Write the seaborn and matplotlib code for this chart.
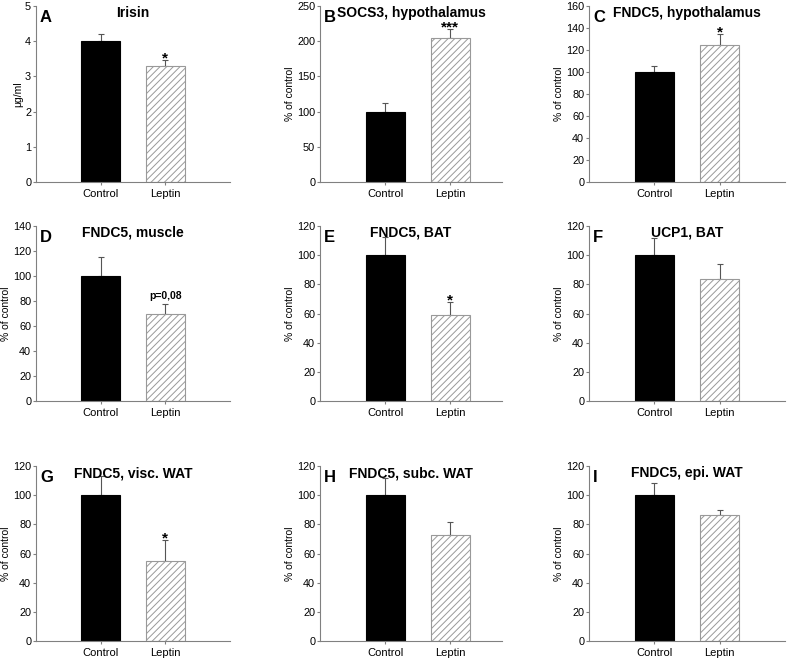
import matplotlib
matplotlib.use("Agg")
import matplotlib.pyplot as plt
import seaborn as sns
import pandas as pd

sns.set_style("ticks")
plt.rcParams['font.family'] = ['Liberation Sans', 'DejaVu Sans']
plt.rcParams['hatch.linewidth'] = 0.7
plt.rcParams['text.color'] = 'black'
plt.rcParams['axes.labelcolor'] = 'black'

groups = ["Control", "Leptin"]
letters = ["A", "B", "C", "D", "E", "F", "G", "H", "I"]
titles = ["Irisin", "SOCS3, hypothalamus", "FNDC5, hypothalamus",
          "FNDC5, muscle", "FNDC5, BAT", "UCP1, BAT",
          "FNDC5, visc. WAT", "FNDC5, subc. WAT", "FNDC5, epi. WAT"]
ylabels = ["\u03bcg/ml"] + ["% of control"] * 8
ymax = [5, 250, 160, 140, 120, 120, 120, 120, 120]
ystep = [1, 50, 20, 20, 20, 20, 20, 20, 20]
control_mean = [4.0, 100, 100, 100, 100, 100, 100, 100, 100]
control_err = [0.2, 12, 5, 15, 12.5, 12, 13, 12, 8.5]
leptin_mean = [3.3, 205, 125, 70, 59, 84, 55, 72.5, 86.5]
leptin_err = [0.17, 12, 10, 7.5, 9, 10, 14, 9, 3]
marks = ["*", "***", "*", "p=0,08", "*", "", "*", "", ""]

W, H = 787, 663
cols = [(36, 230, 2.0), (320, 502, 1.8), (589, 785, 2.0)]
rows = [(6, 182), (226, 401), (466, 641)]

fig = plt.figure(figsize=(W / 100, H / 100), dpi=100)
axis_gray = "#808080"

for i in range(9):
    r, c = divmod(i, 3)
    x0, x1, xr = cols[c]
    y0, y1 = rows[r]
    ax = fig.add_axes([x0 / W, 1 - y1 / H, (x1 - x0) / W, (y1 - y0) / H])
    df = pd.DataFrame({"group": groups,
                       "value": [control_mean[i], leptin_mean[i]]})
    sns.barplot(data=df, x="group", y="value", hue="group",
                palette=["black", "white"], width=0.6, errorbar=None,
                legend=False, ax=ax, saturation=1)
    bars = ax.patches
    bars[0].set_edgecolor("black")
    bars[0].set_linewidth(0.8)
    bars[1].set_edgecolor("#999999")
    bars[1].set_hatch("/////")
    bars[1].set_linewidth(0.8)
    ax.errorbar([0, 1], [control_mean[i], leptin_mean[i]],
                yerr=[[0, 0], [control_err[i], leptin_err[i]]],
                fmt="none", ecolor="#555555", elinewidth=0.8,
                capsize=2.5, capthick=0.8, zorder=1)
    for b in bars:
        b.set_zorder(2)
    ax.set_xlim(-1.0, xr)
    ax.set_ylim(0, ymax[i])
    ax.set_yticks(range(0, ymax[i] + 1, ystep[i]))
    ax.set_xlabel("")
    ax.set_ylabel(ylabels[i], fontsize=7.5, labelpad=1.5)
    ax.tick_params(axis="both", labelsize=8, length=2.3, width=0.8,
                   color=axis_gray, labelcolor="black")
    ax.tick_params(axis="y", pad=1.2, labelsize=7.8)
    ax.tick_params(axis="x", pad=3)
    sns.despine(ax=ax)
    for s in ["left", "bottom"]:
        ax.spines[s].set_color(axis_gray)
        ax.spines[s].set_linewidth(0.8)
    ax.text(0.5, 1.0, titles[i], transform=ax.transAxes, ha="center",
            va="top", fontsize=10, fontweight="bold")
    ax.text(0.02, 0.975, letters[i], transform=ax.transAxes, ha="left",
            va="top", fontsize=12, fontweight="bold")
    if marks[i]:
        top = leptin_mean[i] + leptin_err[i]
        if marks[i].startswith("p"):
            ax.annotate(marks[i], (1, top), xytext=(0, 2),
                        textcoords="offset points", ha="center",
                        va="bottom", fontsize=7.5, fontweight="bold")
        else:
            ax.annotate(marks[i], (1, top), xytext=(0, -4),
                        textcoords="offset points", ha="center",
                        va="bottom", fontsize=11, fontweight="bold")

fig.savefig("out.png", dpi=100)
